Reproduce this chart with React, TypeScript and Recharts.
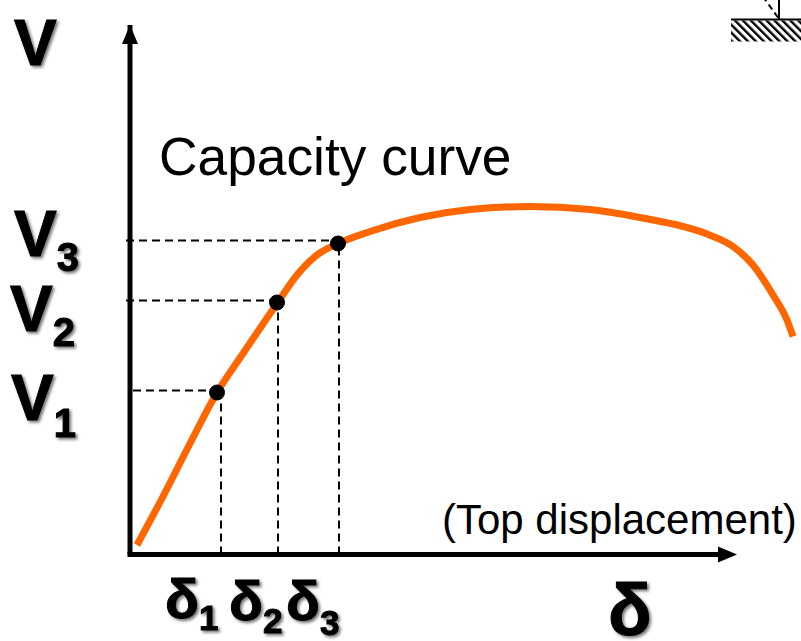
import React from "react";
import { ComposedChart, Line, XAxis, YAxis, ReferenceLine, ReferenceDot, ReferenceArea } from "recharts";

const curveDisplacement = [7, 33, 60, 87, 113, 147, 167, 187, 208, 240, 290, 340, 400, 460, 510, 577, 603, 623, 643, 657, 663];
const curveShear = [9.5, 58, 111, 162, 201, 251, 279.5, 299.5, 311, 323, 337, 345, 348, 345, 337, 320.5, 308, 289.5, 259.5, 234.5, 218];
const curve = curveDisplacement.map((d, i) => ({ d, v: curveShear[i] }));

const pointDisplacement = [87, 147, 208];
const pointShear = [162, 252, 311];
const dashDisplacement = [91, 148, 209];
const dashShear = [164, 254, 314];
const shearNames = ["V", "V", "V"];
const dispNames = ["δ", "δ", "δ"];
const subscripts = ["1", "2", "3"];

const FONT = "'Liberation Sans', Arial, sans-serif";
const shadow = { filter: "drop-shadow(2px 2px 1.5px rgba(0,0,0,0.55))" };
const yTickPlace = [
  { x: 76, dy: 29, sub: 17 },
  { x: 75, dy: 30, sub: 15 },
  { x: 79, dy: 15, sub: 15 },
];
const xTickPlace = [
  { x: 165, y: 618, sub: 12 },
  { x: 229, y: 620, sub: 13 },
  { x: 286, y: 620, sub: 15 },
];

const YTick = (p: any) => {
  const i = dashShear.indexOf(p.payload.value);
  const o = yTickPlace[i];
  return (
    <text x={o.x} y={p.y + o.dy} textAnchor="end" fontFamily={FONT} fontWeight={700} fontSize={64} fill="#000" stroke="#000" strokeWidth={1} style={shadow}>
      {shearNames[i]}
      <tspan fontSize={40} dy={o.sub}>{subscripts[i]}</tspan>
    </text>
  );
};
const XTick = (p: any) => {
  const i = dashDisplacement.indexOf(p.payload.value);
  const o = xTickPlace[i];
  return (
    <text x={o.x} y={o.y} fontFamily={FONT} fontWeight={700} fontSize={56} fill="#000" stroke="#000" strokeWidth={1} style={shadow}>
      {dispNames[i]}
      <tspan fontSize={35} dy={o.sub}>{subscripts[i]}</tspan>
    </text>
  );
};

const UpArrow = (p: any) => <path d={`M${p.cx} ${p.cy}l-8 19h16z`} fill="#000" />;
const RightArrow = (p: any) => <path d={`M${p.cx} ${p.cy}l-19 -8v16z`} fill="#000" />;
const Hatch = (p: any) => (
  <g>
    <defs>
      <pattern id="hatch" width="5.6" height="5.6" patternUnits="userSpaceOnUse" patternTransform="rotate(-45)">
        <rect width="5.6" height="5.6" fill="#fff" />
        <rect width="2.4" height="5.6" fill="#000" />
      </pattern>
    </defs>
    <rect x={p.x} y={p.y} width={p.width} height={p.height} fill="url(#hatch)" />
  </g>
);

const dash = { stroke: "#000", strokeWidth: 2, strokeDasharray: "8 5", ifOverflow: "visible" as const };

export default function App() {
  return (
    <div style={{ position: "fixed", left: 0, top: 0, width: 801, height: 641, background: "#fff" }}>
      <ComposedChart width={801} height={641} data={curve} margin={{ top: 25, right: 0, bottom: 0, left: 0 }}>
        <XAxis
          dataKey="d"
          type="number"
          domain={[0, 671]}
          ticks={dashDisplacement}
          interval={0}
          tick={<XTick />}
          tickLine={false}
          axisLine={false}
          height={86.5}
        />
        <YAxis
          type="number"
          domain={[0, 529.5]}
          ticks={dashShear}
          interval={0}
          tick={<YTick />}
          tickLine={false}
          axisLine={{ stroke: "#000", strokeWidth: 5 }}
          width={130}
        />
        {dashShear.map((v, i) => (
          <ReferenceLine key={"h" + i} {...dash} segment={[{ x: i === 0 ? 3 : -4, y: v }, { x: dashDisplacement[i] - 3, y: v }]} />
        ))}
        {dashDisplacement.map((d, i) => (
          <ReferenceLine key={"v" + i} {...dash} segment={[{ x: d, y: 0 }, { x: d, y: dashShear[i] - 3 }]} />
        ))}
        <ReferenceLine segment={[{ x: -2.5, y: 0 }, { x: 592, y: 0 }]} stroke="#000" strokeWidth={5} ifOverflow="visible" />
        <Line dataKey="v" stroke="#FF6600" strokeWidth={7} dot={false} type="monotone" isAnimationActive={false} />
        {pointDisplacement.map((d, i) => (
          <ReferenceDot key={"p" + i} x={d} y={pointShear[i]} r={7.5} fill="#000" stroke="#000" ifOverflow="visible" />
        ))}
        <ReferenceDot x={0} y={529.5} shape={<UpArrow />} ifOverflow="visible" />
        <ReferenceDot x={607} y={0} shape={<RightArrow />} ifOverflow="visible" />
        <ReferenceArea x1={601} x2={671} y1={513} y2={534} shape={<Hatch />} ifOverflow="visible" />
        <ReferenceLine segment={[{ x: 601, y: 535 }, { x: 671, y: 535 }]} stroke="#000" strokeWidth={2} ifOverflow="visible" />
        <ReferenceLine segment={[{ x: 649, y: 535 }, { x: 649, y: 555 }]} stroke="#000" strokeWidth={2} ifOverflow="visible" />
        <ReferenceLine segment={[{ x: 648, y: 537 }, { x: 635, y: 555 }]} stroke="#000" strokeWidth={2} strokeDasharray="6 4" ifOverflow="visible" />
        <text x={159} y={175} fontFamily={FONT} fontSize={53.3} fill="#000">Capacity curve</text>
        <text x={442} y={534} fontFamily={FONT} fontSize={42} fill="#000">(Top displacement)</text>
        <text x={14} y={65} fontFamily={FONT} fontWeight={700} fontSize={64} fill="#000" stroke="#000" strokeWidth={1} style={shadow}>V</text>
        <text x={608} y={635} fontFamily={FONT} fontWeight={700} fontSize={72} fill="#000" stroke="#000" strokeWidth={1} style={shadow}>δ</text>
      </ComposedChart>
    </div>
  );
}
